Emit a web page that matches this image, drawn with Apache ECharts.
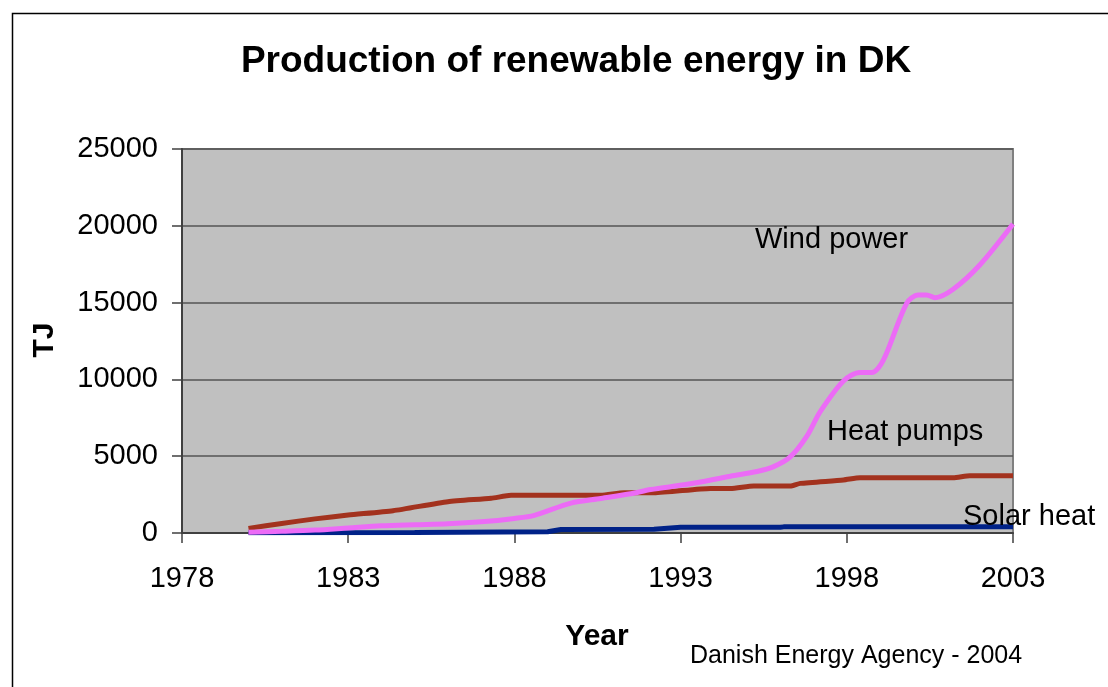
<!DOCTYPE html>
<html>
<head>
<meta charset="utf-8">
<title>Production of renewable energy in DK</title>
<script src="https://cdn.jsdelivr.net/npm/echarts@6/dist/echarts.min.js"></script>
<style>
  html, body { margin: 0; padding: 0; background: #fff; }
  #chart { width: 1108px; height: 687px; }
</style>
</head>
<body>
<div id="chart"></div>
<script>
// 读图得到的数据（年份, TJ）
const windPower = [
  [1980, 50], [1981, 110], [1982, 190], [1983, 330], [1984, 470], [1985, 540],
  [1986, 600], [1987, 730], [1988, 950], [1988.6, 1150], [1989.7, 1950],
  [1990.6, 2250], [1991.5, 2550], [1992.1, 2830], [1993.2, 3170], [1994.5, 3700],
  [1995.3, 4000], [1995.8, 4320], [1996.3, 4950], [1996.8, 6300], [1997.2, 7900],
  [1997.9, 9900], [1998.4, 10450], [1998.75, 10450], [1999.1, 11250],
  [1999.8, 14950], [2000.15, 15500], [2000.4, 15500], [2000.65, 15320],
  [2001.2, 15870], [2002, 17450], [2003, 20120]
];
const heatPumps = [
  [1980, 300], [1981, 620], [1982, 920], [1983, 1170], [1984.35, 1450],
  [1986, 2040], [1987.3, 2260], [1987.9, 2450], [1990.6, 2450], [1991.3, 2620],
  [1992.2, 2620], [1993.9, 2900], [1994.5, 2900], [1995.2, 3060], [1996.3, 3060],
  [1996.6, 3230], [1997.9, 3450], [1998.4, 3600], [2001.2, 3600], [2001.7, 3730],
  [2003, 3730]
];
const solarHeat = [
  [1980, 20], [1985, 40], [1989, 80], [1989.4, 230], [1992.2, 240], [1993, 370],
  [1996, 370], [1996.1, 400], [2003, 400]
];
const yearTicks = [1978, 1983, 1988, 1993, 1998, 2003];

const chart = echarts.init(document.getElementById('chart'));
const font = "'Liberation Sans', Arial, sans-serif";

const option = {
  backgroundColor: '#fff',
  animation: false,
  grid: {
    left: 182, top: 149, right: 95, bottom: 154,
    show: true,
    backgroundColor: '#C0C0C0',
    borderColor: '#808080',
    borderWidth: 2
  },
  xAxis: {
    type: 'value',
    min: yearTicks[0],
    max: yearTicks[yearTicks.length - 1],
    interval: 5,
    axisLine: { show: true, lineStyle: { color: '#404040', width: 2 } },
    axisTick: { show: true, length: 10, lineStyle: { color: '#404040', width: 1.5 } },
    axisLabel: { color: '#000', fontSize: 29, fontFamily: font, margin: 31,
      formatter: v => String(v) },
    splitLine: { show: false }
  },
  yAxis: {
    type: 'value',
    min: 0, max: 25000, interval: 5000,
    axisLine: { show: true, lineStyle: { color: '#404040', width: 2 } },
    axisTick: { show: true, length: 10, lineStyle: { color: '#404040', width: 1.5 } },
    axisLabel: { color: '#000', fontSize: 29, fontFamily: font, margin: 24,
      formatter: v => String(v) },
    splitLine: { show: true, lineStyle: { color: '#555', width: 1.5 } }
  },
  series: [
    {
      name: 'Solar heat', type: 'line', data: solarHeat,
      showSymbol: false, lineStyle: { color: '#002288', width: 5 }, z: 2
    },
    {
      name: 'Heat pumps', type: 'line', data: heatPumps, smooth: 0.2,
      showSymbol: false, lineStyle: { color: '#A3321E', width: 5 }, z: 3
    },
    {
      name: 'Wind power', type: 'line', data: windPower, smooth: 0.3,
      showSymbol: false, lineStyle: { color: '#EC6BF6', width: 5 }, z: 4
    }
  ],
  graphic: [
    // 外边框
    { type: 'rect', left: 10, top: 11, shape: { width: 1120, height: 700 },
      style: { fill: 'none', stroke: '#000', lineWidth: 1.5 }, z: 100 },
    { type: 'text', x: 576, y: 62,
      style: { text: 'Production of renewable energy in DK', font: 'bold 37px ' + font, fill: '#000', align: 'center', verticalAlign: 'middle' } },
    { type: 'text', x: 45, y: 340, rotation: Math.PI / 2,
      style: { text: 'TJ', font: 'bold 30px ' + font, fill: '#000', align: 'center', verticalAlign: 'middle' } },
    { type: 'text', x: 597, y: 637,
      style: { text: 'Year', font: 'bold 30px ' + font, fill: '#000', align: 'center', verticalAlign: 'middle' } },
    { type: 'text', x: 690, y: 656,
      style: { text: 'Danish Energy Agency - 2004', font: '25px ' + font, fill: '#000', align: 'left', verticalAlign: 'middle' } },
    { type: 'text', x: 755, y: 240, z: 50,
      style: { text: 'Wind power', font: '29px ' + font, fill: '#000', align: 'left', verticalAlign: 'middle' } },
    { type: 'text', x: 827, y: 432, z: 50,
      style: { text: 'Heat pumps', font: '29px ' + font, fill: '#000', align: 'left', verticalAlign: 'middle' } },
    { type: 'text', x: 963, y: 517, z: 50,
      style: { text: 'Solar heat', font: '29px ' + font, fill: '#000', align: 'left', verticalAlign: 'middle' } }
  ]
};

chart.setOption(option);
</script>
</body>
</html>
